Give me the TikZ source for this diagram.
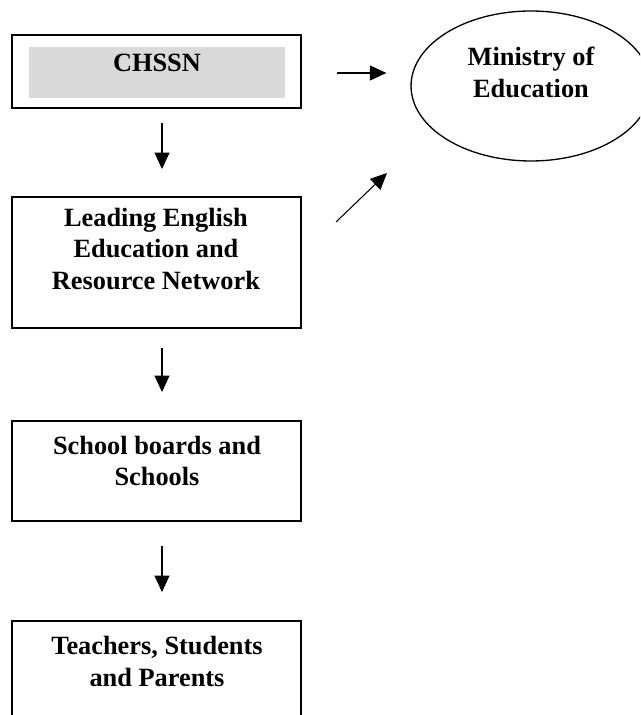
\documentclass[tikz,border=0pt]{standalone}
\usepackage{fontspec}
\setmainfont{Liberation Serif}
\usetikzlibrary{shapes.geometric,arrows.meta}

\begin{document}
\begin{tikzpicture}[x=0.02cm, y=-0.02cm]

    \tikzstyle{box}=[rectangle, draw=black, line width=1.1pt, minimum width=5.78cm, inner sep=0pt]
    \tikzstyle{txt}=[align=center, inner sep=0pt, font=\bfseries\fontsize{15}{18.1}\selectfont]
    \tikzstyle{arr}=[line width=0.6pt, -{Triangle[length=0.33cm, width=0.3cm]}]

    \useasboundingbox (0,0) rectangle (640,715);
    \clip (0,0) rectangle (640,715);

    % boxes
    \node[box, minimum height=1.46cm] (chssn) at (156.5,71.5) {};
    \node[rectangle, fill=black!15, minimum width=5.12cm, minimum height=1.02cm] (shade) at (157,72.5) {};
    \node[box, minimum height=2.62cm] (leading) at (156.5,262.5) {};
    \node[box, minimum height=2cm] (schools) at (156.5,471) {};
    \node[box, minimum height=2.36cm] (teachers) at (156.5,680) {};
    \node[ellipse, draw=black, line width=0.75pt, minimum width=4.8cm, minimum height=3cm] (ministry) at (531,86) {};

    % texts
    \node[txt] (chssntxt) at (157,63) {CHSSN};
    \node[txt] (leadingtxt) at (156,249) {Leading English\\Education and\\Resource Network};
    \node[txt] (schoolstxt) at (157,461) {School boards and\\Schools};
    \node[txt] (teacherstxt) at (157,661.5) {Teachers, Students\\and Parents};
    \node[txt] (ministrytxt) at (531,72) {Ministry of\\Education};

    % arrows
    \draw[arr, shorten <=0.28cm, shorten >=0.54cm] ([xshift=0.11cm]chssn.south) -- ([xshift=0.11cm]leading.north);
    \draw[arr, shorten <=0.38cm, shorten >=0.56cm] ([xshift=0.11cm]leading.south) -- ([xshift=0.11cm]schools.north);
    \draw[arr, shorten <=0.48cm, shorten >=0.56cm] ([xshift=0.11cm]schools.south) -- ([xshift=0.11cm]teachers.north);
    \draw[arr, shorten <=0.7cm, shorten >=0.48cm] ([yshift=-0.03cm]chssn.east) -- ([yshift=-0.03cm]chssn.east -| ministry.west);
    \coordinate (upfoot) at (336,222);
    \coordinate (uptip) at (387,173);
    \draw[arr] (upfoot) -- (uptip);
\end{tikzpicture}
\end{document}
